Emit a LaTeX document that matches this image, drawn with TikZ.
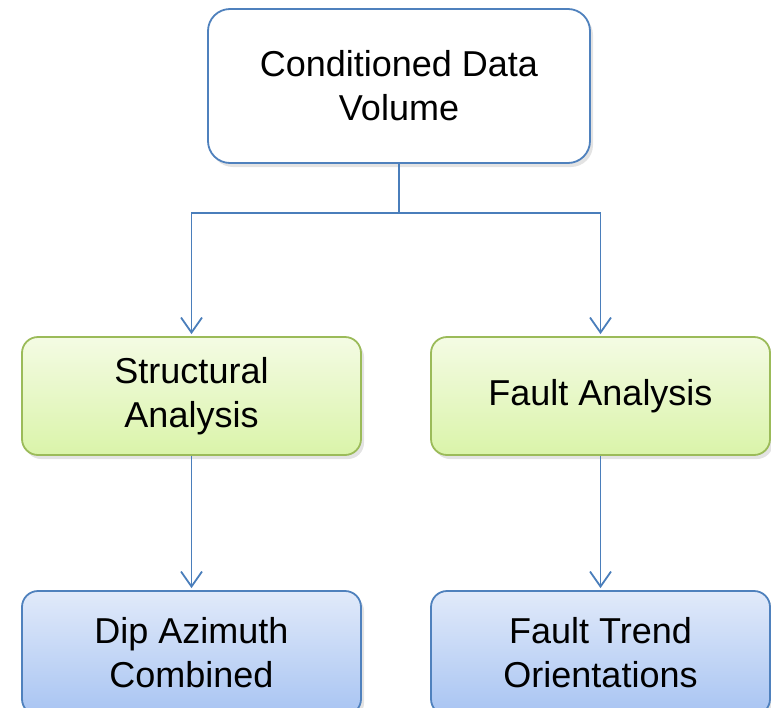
\documentclass[tikz,border=0pt]{standalone}
\usepackage{fontspec}
\setmainfont{Liberation Sans}
\usetikzlibrary{arrows.meta,shadows}

\definecolor{lineblue}{HTML}{4A7EBB}
\definecolor{boxblue}{HTML}{4F81BD}
\definecolor{boxgreen}{HTML}{9BBB59}
\definecolor{greentop}{HTML}{F4FBE4}
\definecolor{greenbot}{HTML}{DAF4A9}
\definecolor{bluetop}{HTML}{E1EAFA}
\definecolor{bluebot}{HTML}{A8C4F2}

\tikzset{
  stagebox/.style={rectangle, rounded corners=22pt, line width=1.8pt, align=center,
    font=\fontsize{36}{44}\selectfont, inner sep=0pt,
    drop shadow={shadow xshift=3pt, shadow yshift=-4pt, opacity=0.22}},
  inbox/.style={stagebox, draw=boxblue, fill=white,
    minimum width=382pt, minimum height=154pt},
  midbox/.style={stagebox, draw=boxgreen, top color=greentop, bottom color=greenbot,
    minimum width=339pt, minimum height=118pt, rounded corners=16pt},
  outbox/.style={stagebox, draw=boxblue, top color=bluetop, bottom color=bluebot,
    minimum width=339pt, minimum height=124pt, rounded corners=16pt},
  link/.style={draw=lineblue, line width=1.8pt},
  linkarrow/.style={link, -{Straight Barb[length=15pt, width=21pt, line width=1.8pt]}, shorten >=2pt}
}

\begin{document}
\begin{tikzpicture}[x=1pt, y=-1pt]
  \useasboundingbox (0,0) rectangle (771,707);

  % input volume
  \node[inbox] (cond) at (399,86) {Conditioned Data\\Volume};

  % two analyses
  \node[midbox] (struct) at (191.5,396) {Structural\\Analysis};
  \node[midbox] (fault) at (600.5,396) {Fault Analysis};

  % results
  \node[outbox] (dip) at (191.5,653) {Dip Azimuth\\Combined};
  \node[outbox] (trend) at (600.5,653) {Fault Trend\\Orientations};

  % connectors
  \coordinate (split) at (399,213);
  \draw[link] (cond.south) -- (split);
  \draw[linkarrow] (split) -| (struct.north);
  \draw[linkarrow] (split) -| (fault.north);
  \draw[linkarrow] (struct.south) -- (dip.north);
  \draw[linkarrow] (fault.south) -- (trend.north);
\end{tikzpicture}
\end{document}
